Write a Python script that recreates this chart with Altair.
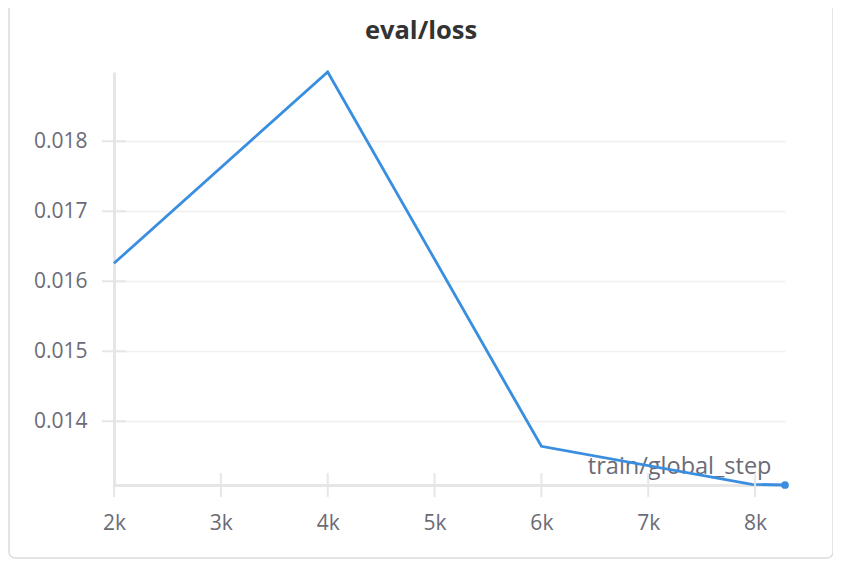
import altair as alt
import pandas as pd

steps = [2000, 4000, 6000, 7970, 8280]
loss = [0.016257, 0.018990, 0.013643, 0.013100, 0.013090]
x_ticks = [2000, 3000, 4000, 5000, 6000, 7000, 8000]
y_ticks = [0.014, 0.015, 0.016, 0.017, 0.018]
chart_title = ["eval/loss"]

df = pd.DataFrame({"step": steps, "loss": loss})
last = df.tail(1)
xt = pd.DataFrame({"t": x_ticks})
yt = pd.DataFrame({"t": y_ticks})
tt = pd.DataFrame({"title": chart_title})

W, H = 671, 413
FONT = "Open Sans"
GREY = "#6b6b76"
LINE = "#e6e6e6"
BLUE = "#3a8ee0"

xs = alt.Scale(domain=[2000, 8280], nice=False, zero=False)
ys = alt.Scale(domain=[0.01309, 0.01899], nice=False, zero=False)

xaxis = alt.Axis(values=x_ticks, labelExpr="datum.value/1000 + 'k'", grid=False,
                 ticks=False, domain=True, domainColor=LINE, domainWidth=3,
                 labelFont=FONT, labelFontSize=21, labelColor=GREY, labelPadding=27,
                 labelFlush=False,
                 title="train/global_step", titleFont=FONT, titleFontSize=23.5,
                 titleFontWeight="normal", titleColor=GREY, titleX=657, titleY=-12,
                 titleAlign="right", titleBaseline="alphabetic")
yaxis = alt.Axis(values=y_ticks, format=".3f", grid=True, gridColor="#f0f0f0", gridWidth=1.5,
                 ticks=False, domain=True, domainColor=LINE, domainWidth=3,
                 labelFont=FONT, labelFontSize=21, labelColor=GREY, labelPadding=27,
                 labelFlush=False, title=None)

frame = alt.Chart(last).mark_rect(fill=None, stroke="#dcdcdc", strokeWidth=1.5,
                                  cornerRadius=6).encode(
    x=alt.value(-105), x2=alt.value(719), y=alt.value(-90), y2=alt.value(486))

title = alt.Chart(tt).mark_text(font=FONT, fontSize=25.5, fontWeight="bold", color="#333333",
                                align="center", baseline="alphabetic").encode(
    text="title:N", x=alt.value(307), y=alt.value(-33))

yticks = alt.Chart(yt).mark_rule(color=LINE, strokeWidth=2).encode(
    y=alt.Y("t:Q", scale=ys), x=alt.value(-12), x2=alt.value(12))

xticks = alt.Chart(xt).mark_rule(color=LINE, strokeWidth=2).encode(
    x=alt.X("t:Q", scale=xs), y=alt.value(H - 12), y2=alt.value(H + 12))

line = alt.Chart(df).mark_line(color=BLUE, strokeWidth=2.8, clip=False).encode(
    x=alt.X("step:Q", scale=xs, axis=xaxis),
    y=alt.Y("loss:Q", scale=ys, axis=yaxis),
)
dot = alt.Chart(last).mark_circle(color=BLUE, size=60, opacity=1).encode(
    x=alt.X("step:Q", scale=xs), y=alt.Y("loss:Q", scale=ys))

chart = alt.layer(frame, title, line, xticks, yticks, dot).properties(
    width=W, height=H,
    autosize=alt.AutoSizeParams(type="none"),
    padding={"left": 106, "top": 64, "right": 48, "bottom": 74},
).configure(background="white").configure_view(stroke=None)

chart.save("out.html", embed_options={"renderer": "svg", "actions": False})
